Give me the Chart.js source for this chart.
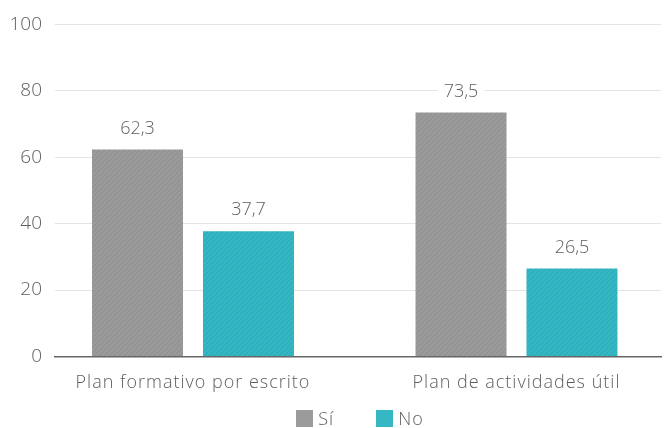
<!DOCTYPE html>
<html>
<head>
<meta charset="utf-8">
<script src="https://cdn.jsdelivr.net/npm/chart.js@4.4.1/dist/chart.umd.min.js"></script>
<style>
  html, body { margin: 0; padding: 0; background: #fff; }
  #wrap { position: relative; width: 664px; height: 428px; }
  #legend {
    position: absolute; left: 57px; right: 1px; top: 406px;
    display: flex; justify-content: center; gap: 42px;
    font-family: "Open Sans", Roboto, sans-serif; font-weight: 300;
    font-size: 18px; letter-spacing: 1px; color: #5e5e5e;
  }
  #legend span.item { display: flex; align-items: center; }
  #legend span.box { display: inline-block; width: 17px; height: 17px; margin-right: 5px; }
</style>
</head>
<body>
<div id="wrap">
  <canvas id="myChart"></canvas>
  <div id="legend"></div>
</div>
<script>
// chart data
const categories = ['Plan formativo por escrito', 'Plan de actividades útil'];
const seriesNames = ['Sí', 'No'];
const siValues = [62.3, 73.5];
const noValues = [37.7, 26.5];
const yTicks = [0, 20, 40, 60, 80, 100];

const solidColors = ['#9b9b9b', '#35b8c4'];
const stripeColors = ['#909090', '#2cadb9'];
const textColor = '#5e5e5e';
const fontFamily = '"Open Sans", Roboto, sans-serif';

// diagonal hatch fill like the original bars
const makeHatch = (base, stripe) => {
    const c = document.createElement('canvas');
    c.width = 5;
    c.height = 5;
    const g = c.getContext('2d');
    g.fillStyle = base;
    g.fillRect(0, 0, 5, 5);
    g.strokeStyle = stripe;
    g.lineWidth = 1.2;
    g.beginPath();
    g.moveTo(-1, 6); g.lineTo(6, -1);
    g.moveTo(-3.5, 3.5); g.lineTo(3.5, -3.5);
    g.moveTo(1.5, 8.5); g.lineTo(8.5, 1.5);
    g.stroke();
    return g.createPattern(c, 'repeat');
};

// numbers above bars (white backing over the grid lines),
// then wider letter spacing for the category labels drawn after this
const valueLabels = {
    id: 'valueLabels',
    afterDatasetsDraw(chart) {
        const ctx = chart.ctx;
        ctx.save();
        ctx.letterSpacing = '0px';
        ctx.font = '300 18px ' + fontFamily;
        ctx.textAlign = 'center';
        ctx.textBaseline = 'middle';
        chart.data.datasets.forEach((ds, di) => {
            chart.getDatasetMeta(di).data.forEach((bar, i) => {
                const txt = ds.data[i].y.toFixed(1).replace('.', ',');
                const w = ctx.measureText(txt).width;
                const y = bar.y - 21;
                ctx.fillStyle = '#fff';
                ctx.fillRect(bar.x - w / 2 - 6, y - 10, w + 12, 20);
                ctx.fillStyle = textColor;
                ctx.fillText(txt, bar.x, y);
            });
        });
        ctx.restore();
        ctx.letterSpacing = '1px';
    },
    afterDraw(chart) {
        chart.ctx.letterSpacing = '0px';
    }
};

const buildLegend = () => {
    const el = document.getElementById('legend');
    seriesNames.forEach((name, i) => {
        const item = document.createElement('span');
        item.className = 'item';
        const box = document.createElement('span');
        box.className = 'box';
        box.style.background = solidColors[i];
        item.appendChild(box);
        item.appendChild(document.createTextNode(name));
        el.appendChild(item);
    });
};

const renderChart = () => {
    const canvas = document.getElementById('myChart');
    const ctx = canvas.getContext('2d');
    const seriesValues = [siValues, noValues];

    new Chart(ctx, {
        type: 'bar',
        data: {
            datasets: seriesNames.map((name, s) => ({
                label: name,
                data: seriesValues[s].map((v, i) => ({ x: i, y: v })),
                backgroundColor: makeHatch(solidColors[s], stripeColors[s]),
                borderWidth: 0,
                categoryPercentage: 0.686,
                barPercentage: 0.82
            }))
        },
        options: {
            responsive: true,
            maintainAspectRatio: false,
            animation: false,
            layout: { padding: { top: 14, right: 3, left: 0, bottom: 18 } },
            scales: {
                x: {
                    type: 'linear',
                    offset: false,
                    bounds: 'data',
                    min: -0.4266,
                    max: 1.4467,
                    afterBuildTicks: (scale) => {
                        scale.ticks = categories.map((c, i) => ({ value: i }));
                    },
                    grid: { display: false, drawTicks: false, offset: false },
                    border: { display: true, color: '#666', width: 1.5 },
                    ticks: {
                        z: 1,
                        autoSkip: false,
                        maxRotation: 0,
                        padding: 16,
                        color: textColor,
                        font: { family: fontFamily, size: 18, weight: 300 },
                        callback: (v) => categories[v] ?? ''
                    }
                },
                y: {
                    min: yTicks[0],
                    max: yTicks[yTicks.length - 1],
                    afterBuildTicks: (scale) => {
                        scale.ticks = yTicks.map(v => ({ value: v }));
                    },
                    afterFit: (scale) => { scale.width = 55; },
                    grid: { color: '#e4e4e4', drawTicks: false },
                    border: { display: false },
                    ticks: {
                        padding: 13,
                        color: textColor,
                        font: { family: fontFamily, size: 19, weight: 300 }
                    }
                }
            },
            plugins: {
                legend: { display: false },
                tooltip: { enabled: false }
            }
        },
        plugins: [valueLabels]
    });
};

document.addEventListener('DOMContentLoaded', () => {
    buildLegend();
    renderChart();
});
</script>
</body>
</html>
